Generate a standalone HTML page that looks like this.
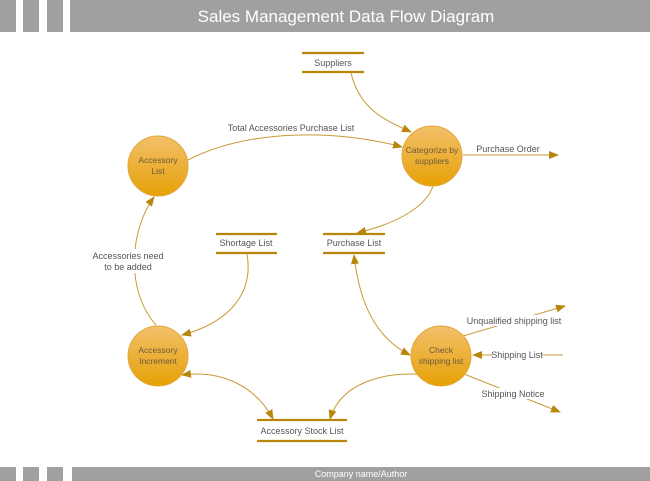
<!DOCTYPE html>
<html><head><meta charset="utf-8"><style>
html,body{margin:0;padding:0;background:#fff;}
svg{display:block;font-family:"Liberation Sans",Arial,sans-serif;}
</style></head><body>
<svg width="650" height="481" viewBox="0 0 650 481" xmlns="http://www.w3.org/2000/svg">
<defs>
<linearGradient id="g" x1="0" y1="0" x2="0" y2="1">
<stop offset="0" stop-color="#f2c06b"/><stop offset="1" stop-color="#e6a106"/>
</linearGradient>
<marker id="a" markerWidth="10" markerHeight="8" refX="9" refY="4" orient="auto" markerUnits="userSpaceOnUse">
<path d="M0,0 L10,4 L0,8 Z" fill="#b8860b"/>
</marker>
<marker id="s" markerWidth="10" markerHeight="8" refX="1" refY="4" orient="auto" markerUnits="userSpaceOnUse">
<path d="M10,0 L0,4 L10,8 Z" fill="#b8860b"/>
</marker>
</defs>
<rect x="0" y="0" width="16" height="32" fill="#a0a0a0"/>
<rect x="23" y="0" width="16" height="32" fill="#a0a0a0"/>
<rect x="47" y="0" width="16" height="32" fill="#a0a0a0"/>
<rect x="70" y="0" width="580" height="32" fill="#a0a0a0"/>
<text x="346" y="22" font-size="17" fill="#fff" text-anchor="middle">Sales Management Data Flow Diagram</text>
<rect x="0" y="467" width="16" height="14" fill="#a0a0a0"/>
<rect x="23" y="467" width="16" height="14" fill="#a0a0a0"/>
<rect x="47" y="467" width="16" height="14" fill="#a0a0a0"/>
<rect x="72" y="467" width="578" height="14" fill="#a0a0a0"/>
<text x="361" y="477" font-size="9" fill="#fff" text-anchor="middle">Company name/Author</text>

<g stroke="#b8860b" stroke-width="2.2">
<line x1="302" y1="53" x2="364" y2="53"/><line x1="302" y1="72" x2="364" y2="72"/>
<line x1="216" y1="234" x2="277" y2="234"/><line x1="216" y1="253" x2="277" y2="253"/>
<line x1="323" y1="234" x2="385" y2="234"/><line x1="323" y1="253" x2="385" y2="253"/>
<line x1="257" y1="420" x2="347" y2="420"/><line x1="257" y1="441" x2="347" y2="441"/>
</g>
<g font-size="9" fill="#555" text-anchor="middle">
<text x="333" y="66">Suppliers</text>
<text x="246" y="246">Shortage List</text>
<text x="354" y="246">Purchase List</text>
<text x="302" y="434">Accessory Stock List</text>
</g>

<g fill="none" stroke="#c99a35" stroke-width="1">
<path d="M351,73 C360,110 385,120 411,132" marker-end="url(#a)"/>
<path d="M188,160 C250,128 340,130 402,147" marker-end="url(#a)"/>
<path d="M463,155 L558,155" marker-end="url(#a)"/>
<path d="M433,186 C425,210 390,225 357,233" marker-end="url(#a)"/>
<path d="M247,254 C255,300 220,325 182,335" marker-end="url(#a)"/>
<path d="M156,325 C125,290 130,230 154,197" marker-end="url(#a)"/>
<path d="M354,255 C360,310 380,340 410,355" marker-start="url(#s)" marker-end="url(#a)"/>
<path d="M430,375 C380,370 340,385 330,419" marker-end="url(#a)"/>
<path d="M182,375 C220,370 255,385 273,419" marker-start="url(#s)" marker-end="url(#a)"/>
<path d="M463,336 L565,306" marker-end="url(#a)"/>
<path d="M563,355 L473,355" marker-end="url(#a)"/>
<path d="M464,374 L560,412" marker-end="url(#a)"/>
</g>

<g stroke="#e2a73a" stroke-width="1" fill="url(#g)">
<circle cx="158" cy="166" r="30"/>
<circle cx="432" cy="156" r="30"/>
<circle cx="158" cy="356" r="30"/>
<circle cx="441" cy="356" r="30"/>
</g>
<g font-size="8.5" fill="#6b5a3a" text-anchor="middle">
<text x="158" y="163">Accessory</text><text x="158" y="174">List</text>
<text x="432" y="153">Categorize by</text><text x="432" y="164">suppliers</text>
<text x="158" y="353">Accessory</text><text x="158" y="364">Increment</text>
<text x="441" y="353">Check</text><text x="441" y="364">shipping list</text>
</g>
<g font-size="9" fill="#555" text-anchor="middle">
<text x="291" y="131">Total Accessories Purchase List</text>
<text x="508" y="152">Purchase Order</text>
<rect x="90" y="249" width="80" height="24" fill="#fff"/>
<text x="128" y="259">Accessories need</text><text x="128" y="270">to be added</text>
<rect x="470" y="315" width="90" height="11" fill="#fff"/>
<text x="514" y="324">Unqualified shipping list</text>
<rect x="492" y="349" width="50" height="11" fill="#fff"/>
<text x="517" y="358">Shipping List</text>
<rect x="482" y="388" width="62" height="11" fill="#fff"/>
<text x="513" y="397">Shipping Notice</text>
</g>
</svg>
</body></html>
